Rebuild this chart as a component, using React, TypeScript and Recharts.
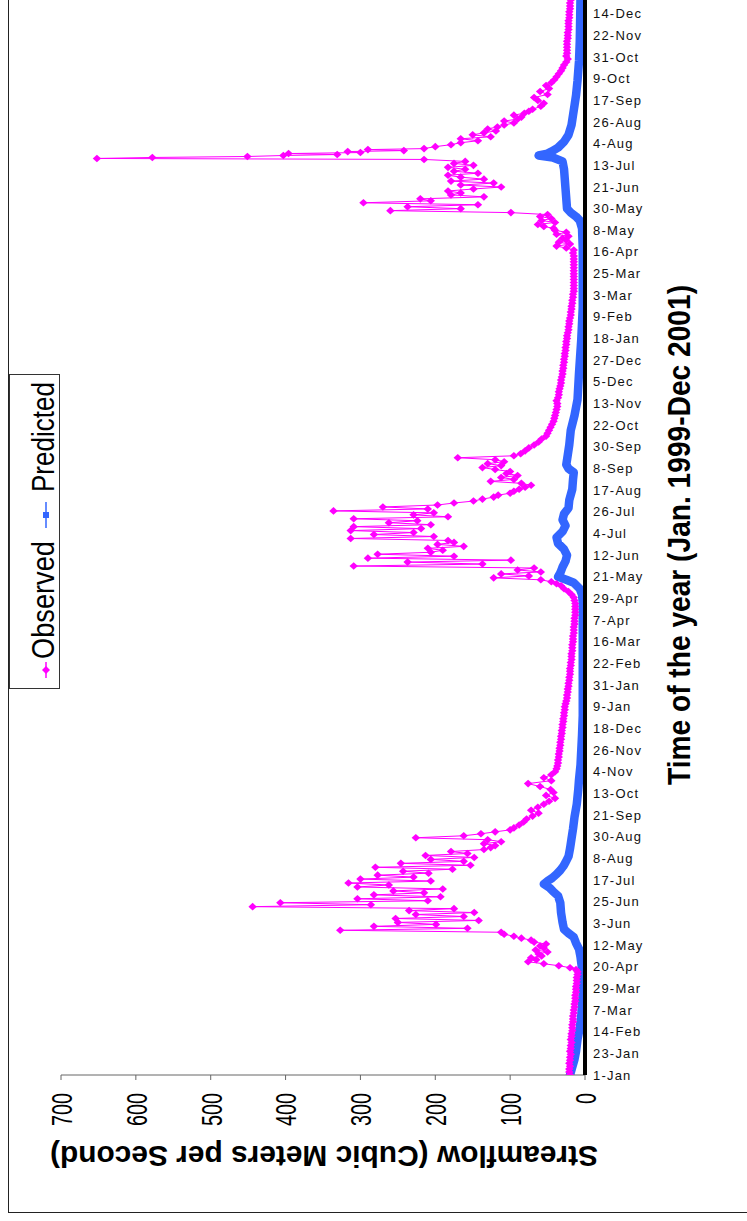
import { LineChart, Line, XAxis, YAxis, Legend, Label } from 'recharts';

// tick labels along the time axis, one every 22 daily records
const dateTicks = [
  '1-Jan', '23-Jan', '14-Feb', '7-Mar', '29-Mar', '20-Apr', '12-May', '3-Jun', '25-Jun', '17-Jul',
  '8-Aug', '30-Aug', '21-Sep', '13-Oct', '4-Nov', '26-Nov', '18-Dec', '9-Jan', '31-Jan', '22-Feb',
  '16-Mar', '7-Apr', '29-Apr', '21-May', '12-Jun', '4-Jul', '26-Jul', '17-Aug', '8-Sep', '30-Sep',
  '22-Oct', '13-Nov', '5-Dec', '27-Dec', '18-Jan', '9-Feb', '3-Mar', '25-Mar', '16-Apr', '8-May',
  '30-May', '21-Jun', '13-Jul', '4-Aug', '26-Aug', '17-Sep', '9-Oct', '31-Oct', '22-Nov', '14-Dec',
];
const tickDays = dateTicks.map((_, i) => i * 22);

const flowTicks = [0, 100, 200, 300, 400, 500, 600, 700];

// observed streamflow (record index, m3/s)
const obsDay = [
  0, 3, 6, 9, 12, 15, 18, 21, 24, 27, 30, 33, 36, 39, 42, 45, 48, 51, 54, 57, 60, 63, 66, 69, 72, 75, 78, 81, 84, 87, 90, 93, 96, 99, 102, 105,
  107, 109, 111, 113, 115, 117, 119, 121, 123, 125, 127, 129, 131, 133, 135, 137, 139, 141, 143, 145,
  147, 149, 151, 153, 155, 157, 159, 161, 163, 165, 167, 169, 171, 173, 175, 177, 179, 181, 183, 185, 187, 189, 191, 193, 195, 197, 199,
  201, 203, 205, 207, 209, 211, 213, 215, 217, 219, 221, 223, 225, 227, 229, 231, 233, 235, 237, 239, 241, 243, 245, 247, 249, 251,
  254, 257, 260, 263, 266, 269, 272, 275, 278, 281, 284, 287, 290, 293, 296, 299, 302, 305, 308, 311, 314, 317, 320, 323, 326, 329,
  332, 335, 338, 341, 344, 347, 350, 353, 356, 359, 362, 365,
  368, 371, 374, 377, 380, 383, 386, 389, 392, 395, 398, 401, 404, 407, 410, 413, 416, 419, 422, 425, 428, 431, 434, 437, 440, 443,
  446, 449, 452, 455, 458, 461, 464, 467, 470, 473, 476, 479, 482, 485, 488, 491, 494, 497, 499, 501, 503,
  505, 507, 509, 511, 513, 515, 517, 519, 521, 523, 525, 527, 529, 531, 533, 535, 537, 539, 541, 543, 545, 547, 549, 551, 553, 555,
  557, 559, 561, 563, 565, 567, 569, 571, 573, 575, 577, 579, 581, 583, 585, 587, 589, 591, 593, 595, 597, 599, 601, 603, 605, 607,
  609, 611, 613, 615, 617, 619, 621, 623, 625, 627, 629, 631,
  634, 637, 640, 643, 646, 649, 652, 655, 658, 661, 664, 667, 670, 673, 676, 679, 682, 685, 688, 691, 694, 697, 700, 703, 706, 709,
  712, 715, 718, 721, 724, 727, 730, 733, 736, 739, 742, 745, 748, 751, 754, 757, 760, 763, 766, 769, 772, 775, 778, 781, 784, 787,
  790, 793, 796, 799, 802, 805, 808, 811, 814, 817, 820, 823, 826, 829, 832, 835,
  838, 840, 842, 844, 846, 848, 850, 852, 854, 856, 858, 860, 862, 864, 866, 868, 870, 872, 874, 876,
  878, 880, 882, 884, 886, 888, 890, 892, 894, 896, 898, 900, 902, 904, 906, 908, 910, 912, 914, 916, 918, 920, 922, 924, 926, 928, 930,
  931, 932, 933, 934, 935, 936, 937, 938, 939, 940, 941,
  943, 945, 947, 949, 951, 953, 955, 957, 959, 961, 963, 965, 967, 969, 971, 973, 975, 977, 979, 981,
  984, 987, 990, 993, 996, 999, 1002, 1005, 1008, 1011, 1014, 1017, 1020, 1023, 1026, 1029, 1032, 1035, 1038, 1041, 1044, 1047,
  1050, 1053, 1056, 1059, 1062, 1065, 1068, 1071, 1074, 1077, 1080, 1083, 1086, 1089, 1092, 1094,
];
const obsFlow = [
  20, 21, 21, 20, 21, 20, 20, 19, 20, 19, 19, 18, 19, 18, 18, 17, 17, 17, 16, 16, 16, 15, 15, 14, 14, 13, 13, 13, 12, 12, 12, 11, 11, 11, 10, 10,
  12, 20, 35, 55, 76, 65, 72, 58, 62, 50, 66, 55, 60, 52, 68, 72, 85, 95, 108, 112,
  327, 157, 282, 199, 250, 142, 253, 162, 226, 148, 235, 175, 444, 286, 407, 210, 304, 193, 282, 215, 256, 190, 304, 262, 316, 206, 300,
  229, 277, 209, 243, 177, 280, 153, 246, 162, 206, 148, 213, 157, 179, 135, 126, 120, 135, 112, 130, 226, 162, 139, 120, 100, 95,
  88, 82, 78, 70, 62, 72, 63, 55, 48, 40, 52, 42, 46, 60, 76, 45, 55, 45, 40, 38, 37, 36, 36, 35, 35, 34,
  34, 33, 33, 32, 32, 31, 31, 30, 30, 29, 29, 28,
  28, 27, 27, 26, 25, 24, 24, 23, 23, 22, 22, 21, 21, 20, 20, 20, 19, 19, 18, 18, 18, 17, 17, 17, 16, 16,
  16, 15, 15, 15, 14, 14, 14, 13, 13, 13, 13, 13, 14, 15, 18, 22, 28, 32, 38, 45, 59,
  122, 75, 112, 59, 90, 68, 309, 137, 237, 99, 290, 175, 277, 206, 190, 210, 162, 197, 175, 183, 313, 202, 282, 229, 313, 219,
  309, 206, 262, 224, 309, 183, 229, 202, 336, 210, 270, 197, 175, 149, 137, 122, 116, 100, 95, 88, 80, 72, 85, 126, 95, 112,
  90, 105, 100, 120, 137, 112, 130, 108, 120, 170, 95, 86,
  80, 75, 68, 62, 58, 52, 50, 48, 46, 44, 42, 41, 40, 39, 38, 37, 37, 38, 36, 35, 35, 34, 33, 32, 32, 31,
  30, 30, 29, 29, 28, 28, 27, 27, 26, 26, 25, 25, 24, 24, 23, 22, 22, 21, 21, 20, 19, 19, 18, 18, 17, 17,
  16, 16, 15, 15, 15, 15, 15, 15, 15, 15, 15, 15, 15, 15, 15, 16,
  15, 25, 38, 20, 35, 25, 30, 22, 38, 25, 40, 42, 55, 63, 40, 58, 45, 60, 50, 99,
  260, 166, 237, 143, 296, 206, 220, 135, 179, 166, 183, 149, 112, 166, 122, 179, 135, 166, 183, 143, 175, 160, 183, 149, 175, 160, 215,
  652, 578, 451, 403, 331, 396, 300, 317, 242, 290, 215,
  200, 179, 166, 143, 166, 126, 150, 135, 119, 130, 117, 108, 95, 108, 90, 85, 95, 81, 75, 70,
  59, 55, 63, 68, 50, 60, 48, 52, 45, 41, 38, 35, 32, 30, 28, 25, 23, 25, 24, 24, 24, 24,
  24, 23, 23, 23, 22, 22, 22, 22, 21, 21, 21, 20, 20, 20, 19, 19,
];

// predicted streamflow (record index, m3/s)
const predDay = [
  0, 8, 16, 24, 36, 48, 60, 72, 84, 96, 108, 120, 128, 134, 140, 144, 148, 155, 165, 175, 182, 186, 190, 194, 197, 200, 204, 208,
  212, 216, 222, 230, 240, 250, 262, 275, 290, 300, 315, 330, 345, 365, 400, 440, 480, 488, 494, 500, 503, 506, 510, 516, 522, 528,
  534, 540, 546, 552, 558, 564, 570, 576, 584, 595, 605, 612, 616, 620, 630, 640, 655, 670, 686, 713, 747, 780, 810, 840, 860, 868,
  872, 876, 880, 890, 900, 910, 920, 928, 932, 934, 936, 938, 942, 948, 955, 965, 975, 985, 995, 1010, 1030, 1050, 1094,
];
const predFlow = [
  20, 17, 14, 12, 10, 7, 5, 4, 3, 3, 4, 6, 8, 12, 15, 22, 28, 30, 32, 33, 36, 42, 47, 55, 50, 44, 38, 33,
  29, 26, 22, 20, 18, 16, 14, 11, 9, 8, 6, 5, 4, 3, 3, 3, 3, 4, 7, 15, 25, 36, 33, 30, 26, 24,
  28, 36, 38, 30, 26, 30, 28, 22, 21, 17, 16, 15, 22, 25, 23, 21, 19, 14, 10, 8, 5, 3, 3, 3, 4, 7,
  12, 19, 24, 25, 26, 27, 28, 30, 43, 62, 50, 45, 36, 28, 22, 18, 16, 14, 12, 10, 8, 7, 6,
];

const observed = obsDay.map((day, i) => ({ day, flow: obsFlow[i] }));
const predicted = predDay.map((day, i) => ({ day, flow: predFlow[i] }));

const PINK = '#FF00FF';
const BLUE = '#3366FF';
const FONT = '"Liberation Sans", Arial, sans-serif';
const TOP = -20; // chart svg is shifted up so the last record reaches the top edge

const Diamond = (props: any) => {
  const { cx, cy, index } = props;
  if (cx == null || cy == null) return <g key={`d-${index}`} />;
  return <path key={`d-${index}`} d={`M${cx},${cy - 3.8}L${cx + 4.2},${cy}L${cx},${cy + 3.8}L${cx - 4.2},${cy}Z`} fill={PINK} />;
};

const FlowTick = (props: any) => {
  const { x, payload } = props;
  const label = String(payload.value);
  const ay = 1093 - TOP;
  return (
    <text
      x={x}
      y={ay}
      transform={`rotate(-90 ${x} ${ay})`}
      textAnchor="end"
      dy="0.36em"
      fontSize={30}
      fontFamily={FONT}
      fill="#000"
      textLength={label.length * 11}
      lengthAdjust="spacingAndGlyphs"
    >
      {label}
    </text>
  );
};

const DateTick = (props: any) => {
  const { y, payload } = props;
  return (
    <text x={593} y={y} dominantBaseline="central" fontSize={13} letterSpacing={1.2} fontFamily={FONT} fill="#111">
      {dateTicks[Math.round(payload.value / 22)]}
    </text>
  );
};

const renderLegend = () => (
  <svg width={52} height={316} style={{ display: 'block', overflow: 'visible' }}>
    <rect x={0.5} y={0.5} width={50} height={314} fill="#fff" stroke="#333" />
    <line x1={37} y1={288} x2={37} y2={304} stroke={PINK} strokeWidth={1.5} />
    <path d="M37,292L41,296L37,300L33,296Z" fill={PINK} />
    <text x={45} y={285} transform="rotate(-90 45 285)" fontSize={31} fontFamily={FONT} textLength={118} lengthAdjust="spacingAndGlyphs">
      Observed
    </text>
    <line x1={37} y1={128} x2={37} y2={154} stroke={BLUE} strokeWidth={1.5} />
    <rect x={34} y={138} width={6} height={6} fill={BLUE} />
    <text x={45} y={118} transform="rotate(-90 45 118)" fontSize={31} fontFamily={FONT} textLength={110} lengthAdjust="spacingAndGlyphs">
      Predicted
    </text>
  </svg>
);

export default function App() {
  return (
    <div style={{ position: 'fixed', left: 0, top: 0, width: 747, height: 1221, overflow: 'hidden', background: '#fff', fontFamily: FONT }}>
      <div style={{ position: 'absolute', left: 8, top: -4, width: 760, height: 1216, borderLeft: '1px solid #222', borderBottom: '1px solid #222' }} />
      <div style={{ position: 'absolute', left: 0, top: TOP }}>
        <LineChart layout="vertical" width={747} height={1241} margin={{ top: 18, right: 161, bottom: 145, left: 61 }}>
          <XAxis
            type="number"
            orientation="bottom"
            domain={[0, 700]}
            ticks={flowTicks}
            reversed
            allowDataOverflow
            height={1}
            axisLine={{ stroke: '#666' }}
            tickLine={{ stroke: '#666' }}
            tickSize={5}
            tick={<FlowTick />}
            interval={0}
          >
            <Label
              content={() => (
                <text
                  x={324}
                  y={1156 - TOP}
                  transform={`rotate(180 324 ${1156 - TOP})`}
                  textAnchor="middle"
                  dominantBaseline="central"
                  fontSize={30}
                  fontWeight="bold"
                  fontFamily={FONT}
                  textLength={548}
                  lengthAdjust="spacingAndGlyphs"
                >
                  Streamflow (Cubic Meters per Second)
                </text>
              )}
            />
          </XAxis>
          <YAxis
            type="number"
            dataKey="day"
            orientation="right"
            domain={[0, 1094]}
            ticks={tickDays}
            reversed
            allowDataOverflow
            width={1}
            axisLine={{ stroke: '#000', strokeWidth: 4 }}
            tickLine={false}
            tick={<DateTick />}
            interval={0}
          >
            <Label
              content={() => (
                <text
                  x={679}
                  y={535 - TOP}
                  transform={`rotate(-90 679 ${535 - TOP})`}
                  textAnchor="middle"
                  dominantBaseline="central"
                  fontSize={32}
                  fontWeight="bold"
                  fontFamily={FONT}
                  textLength={500}
                  lengthAdjust="spacingAndGlyphs"
                >
                  Time of the year (Jan. 1999-Dec 2001)
                </text>
              )}
            />
          </YAxis>
          <Line
            data={observed}
            dataKey="flow"
            name="Observed"
            type="linear"
            stroke={PINK}
            strokeWidth={1}
            dot={Diamond}
            activeDot={false}
            isAnimationActive={false}
          />
          <Line
            data={predicted}
            dataKey="flow"
            name="Predicted"
            type="linear"
            stroke={BLUE}
            strokeWidth={8.5}
            strokeLinejoin="round"
            strokeLinecap="round"
            dot={false}
            activeDot={false}
            isAnimationActive={false}
          />
          <Legend
            layout="horizontal"
            align="center"
            verticalAlign="middle"
            content={renderLegend}
            wrapperStyle={{ position: 'absolute', left: 9, top: 374 - TOP, width: 52, height: 316 }}
          />
        </LineChart>
      </div>
    </div>
  );
}
